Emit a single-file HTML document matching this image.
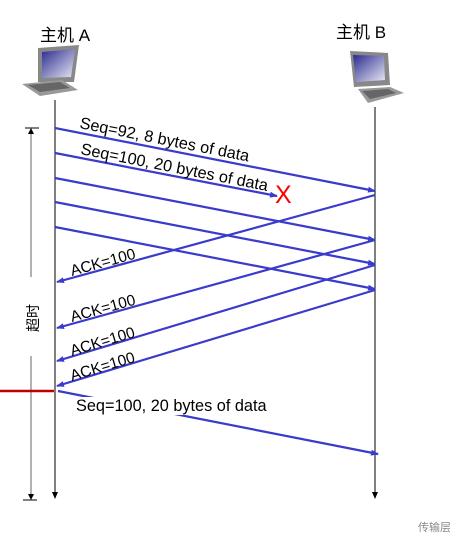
<!DOCTYPE html>
<html><head><meta charset="utf-8"><style>
body{margin:0;background:#fff;width:450px;height:533px;overflow:hidden}
svg text{font-family:"Liberation Sans","Noto Sans CJK SC",sans-serif}
</style></head><body>
<svg width="450" height="533" viewBox="0 0 450 533" xmlns="http://www.w3.org/2000/svg">
<defs>
<marker id="b" markerWidth="8" markerHeight="6" refX="7" refY="3" orient="auto" markerUnits="userSpaceOnUse"><path d="M0,0 L8,3 L0,6z" fill="#3a3acc"/></marker>
<linearGradient id="s" x1="0" y1="0" x2="1" y2="1"><stop offset="0" stop-color="#2a2a90"/><stop offset="1" stop-color="#e8e8f4"/></linearGradient>
</defs>
<text x="40" y="41" font-size="17">主机 A</text>
<text x="336" y="38" font-size="17">主机 B</text>
<g>
<path d="M38,48 L79,45 L74,82 L38,82z" fill="#888"/>
<path d="M42,52 L75,49 L71,77 L42,78z" fill="url(#s)"/>
<path d="M22,84 L62,80 L78,90 L40,96z" fill="#999"/>
<path d="M28,85 L60,82 L70,88 L40,92z" fill="#666"/>
</g>
<g transform="translate(328,3)">
<path d="M22,48 L60,50 L62,82 L26,84z" fill="#888"/>
<path d="M25,52 L56,53 L57,77 L28,79z" fill="url(#s)"/>
<path d="M30,86 L62,84 L76,90 L40,100z" fill="#999"/>
<path d="M34,88 L60,86 L68,90 L42,96z" fill="#666"/>
</g>
<line x1="55" y1="100" x2="55" y2="493" stroke="#000" stroke-width="1"/>
<path d="M52,492 L55,499 L58,492z" fill="#000"/>
<line x1="375" y1="107" x2="375" y2="493" stroke="#000" stroke-width="1"/>
<path d="M372,492 L375,499 L378,492z" fill="#000"/>
<line x1="25" y1="128" x2="39" y2="128" stroke="#000"/>
<line x1="23" y1="500" x2="37" y2="500" stroke="#000"/>
<line x1="31" y1="132" x2="31" y2="277" stroke="#888" stroke-width="1.3"/>
<path d="M28,134 L31,128 L34,134z" fill="#000"/>
<line x1="31" y1="356" x2="31" y2="494" stroke="#888" stroke-width="1.3"/>
<path d="M28,494 L31,500 L34,494z" fill="#000"/>
<text transform="translate(38,318) rotate(-90)" font-size="14" text-anchor="middle">超时</text>
<g stroke="#3a3acc" stroke-width="2.2" fill="none">
<line x1="55" y1="128" x2="375" y2="191" marker-end="url(#b)"/>
<line x1="55" y1="153" x2="277" y2="196" marker-end="url(#b)"/>
<line x1="55" y1="178" x2="375" y2="240" marker-end="url(#b)"/>
<line x1="55" y1="202" x2="375" y2="264" marker-end="url(#b)"/>
<line x1="55" y1="227" x2="375" y2="289" marker-end="url(#b)"/>
<line x1="375" y1="195" x2="57" y2="282" marker-end="url(#b)"/>
<line x1="375" y1="240" x2="57" y2="328" marker-end="url(#b)"/>
<line x1="375" y1="265" x2="57" y2="361" marker-end="url(#b)"/>
<line x1="375" y1="290" x2="57" y2="386" marker-end="url(#b)"/>
<line x1="58" y1="391" x2="378" y2="454" marker-end="url(#b)"/>
</g>
<line x1="0" y1="391" x2="54" y2="391" stroke="#c00000" stroke-width="2.5"/>
<text transform="translate(79,128) rotate(11.2)" font-size="16.3">Seq=92, 8 bytes of data</text>
<text transform="translate(80,154) rotate(11.2)" font-size="16.3">Seq=100, 20 bytes of data</text>
<text x="275" y="203" font-size="25" fill="#f00">X</text>
<text transform="translate(72,276) rotate(-15.3)" font-size="15.5">ACK=100</text>
<text transform="translate(72,322) rotate(-15.3)" font-size="15.5">ACK=100</text>
<text transform="translate(72,356) rotate(-16.8)" font-size="15.5">ACK=100</text>
<text transform="translate(72,381) rotate(-16.8)" font-size="15.5">ACK=100</text>
<rect x="76" y="397" width="192" height="18" fill="#fff"/>
<text x="76" y="411" font-size="16.3">Seq=100, 20 bytes of data</text>
<text x="418" y="531" font-size="11" fill="#888">传输层</text>
</svg>
</body></html>
